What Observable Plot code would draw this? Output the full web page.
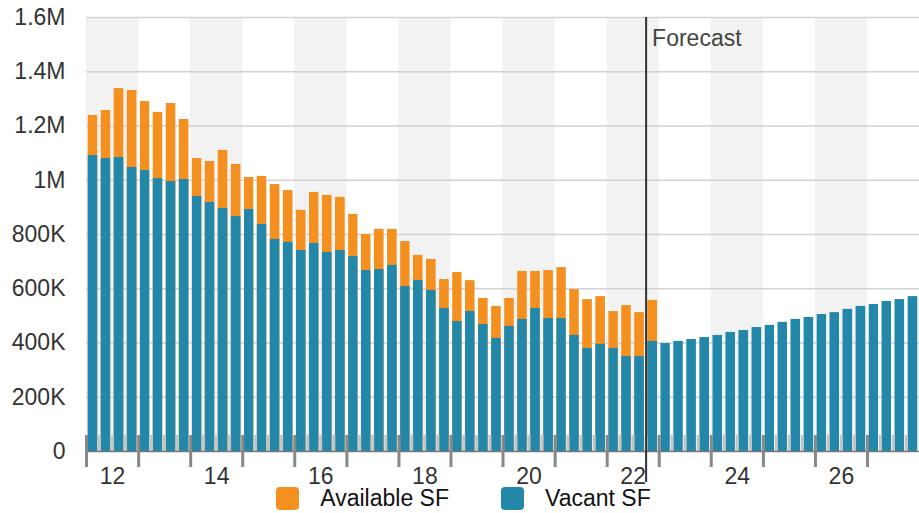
<!DOCTYPE html>
<html><head><meta charset="utf-8">
<script src="https://cdn.jsdelivr.net/npm/d3@7"></script>
<script src="https://cdn.jsdelivr.net/npm/@observablehq/plot@0.6"></script>
<style>
body{margin:0;background:#fff;font-family:"Liberation Sans",Arial,Helvetica,sans-serif;}
#chart svg{display:block}
#legend{display:flex;justify-content:center;align-items:center;height:25px;margin-top:-5px;font-size:23px;line-height:23px;color:#111;padding-left:8px}
.item{display:flex;align-items:center;margin:0 26px}
.sw{width:23px;height:23px;border-radius:4px;margin-right:21px}
</style></head><body><div id="chart"></div><div id="legend"></div>
<script>
const quarters = [
"2012 Q1","2012 Q2","2012 Q3","2012 Q4","2013 Q1","2013 Q2","2013 Q3","2013 Q4",
"2014 Q1","2014 Q2","2014 Q3","2014 Q4","2015 Q1","2015 Q2","2015 Q3","2015 Q4",
"2016 Q1","2016 Q2","2016 Q3","2016 Q4","2017 Q1","2017 Q2","2017 Q3","2017 Q4",
"2018 Q1","2018 Q2","2018 Q3","2018 Q4","2019 Q1","2019 Q2","2019 Q3","2019 Q4",
"2020 Q1","2020 Q2","2020 Q3","2020 Q4","2021 Q1","2021 Q2","2021 Q3","2021 Q4",
"2022 Q1","2022 Q2","2022 Q3","2022 Q4","2023 Q1","2023 Q2","2023 Q3","2023 Q4",
"2024 Q1","2024 Q2","2024 Q3","2024 Q4","2025 Q1","2025 Q2","2025 Q3","2025 Q4",
"2026 Q1","2026 Q2","2026 Q3","2026 Q4","2027 Q1","2027 Q2","2027 Q3","2027 Q4"];
// Vacant SF (thousands)
const vacantK = [
1091,1080,1084,1047,1036,1006,995,1003,
940,918,896,866,892,837,782,771,
741,767,734,741,719,667,671,686,
608,630,594,527,479,516,468,417,
461,487,527,490,490,428,380,395,
380,350,350,406,398,406,413,420,
428,439,446,457,465,476,487,494,
505,512,524,535,542,553,560,571];
// Available SF (thousands), historic quarters only
const availableK = [
1239,1257,1338,1331,1290,1250,1283,1224,
1080,1069,1110,1058,1010,1014,984,962,
889,955,944,937,874,800,819,819,
774,723,708,634,660,630,564,535,
564,664,664,667,678,597,560,571,
516,538,512,557];
const yTicks = [0,200000,400000,600000,800000,1000000,1200000,1400000,1600000];
const yearLabels = [2012,2014,2016,2018,2020,2022,2024,2026];
const yearStarts = [2012,2013,2014,2015,2016,2017,2018,2019,2020,2021,2022,2023,2024,2025,2026,2027];
const forecastStart = new Date(Date.UTC(2022,9,1));
const forecastLabel = "Forecast";
const seriesNames = ["Available SF","Vacant SF"];
const colors = ["#F39020","#2287A8"];

function qStart(label){const [y,q]=label.split(" Q");return new Date(Date.UTC(+y,(+q-1)*3,1));}
function qEnd(label){const [y,q]=label.split(" Q");return new Date(Date.UTC(+y,(+q)*3,1));}
const rows = quarters.map((q,i)=>({q,start:qStart(q),end:qEnd(q),vacant:vacantK[i]*1000,
  available: i<availableK.length ? availableK[i]*1000 : null}));
const bands = yearLabels.map(y=>({x1:new Date(Date.UTC(y,0,1)),x2:new Date(Date.UTC(y+1,0,1))}));
const minorTicks = rows.map(d=>d.start).filter(d=>d.getUTCMonth()!==0);
const majorTicks = yearStarts.map(y=>new Date(Date.UTC(y,0,1)));
const labelDates = yearLabels.map(y=>new Date(Date.UTC(y,6,2)));

const fmtY = v => v===0 ? "0" : v>=1e6 ? (v/1e6)+"M" : (v/1e3)+"K";

const chart = Plot.plot({
  width:919, height:491,
  marginTop:17, marginBottom:40, marginLeft:86, marginRight:0,
  style:{fontFamily:'"Liberation Sans",Arial,Helvetica,sans-serif',fontSize:"23px",color:"#333",background:"#fff"},
  x:{type:"utc",domain:[new Date(Date.UTC(2012,0,1)),new Date(Date.UTC(2028,0,1))]},
  y:{domain:[0,1600000]},
  marks:[
    Plot.rect(bands,{x1:"x1",x2:"x2",fill:"#f2f2f2"}),
    Plot.ruleY(yTicks.filter(v=>v>0),{stroke:"#d2d2d2",strokeWidth:1.5}),
    Plot.rectY(rows.filter(d=>d.available!=null),{x1:"start",x2:"end",y:"available",fill:colors[0],insetLeft:1.75,insetRight:1.75}),
    Plot.rectY(rows,{x1:"start",x2:"end",y:"vacant",fill:colors[1],insetLeft:1.75,insetRight:1.75}),
    Plot.tickX(minorTicks,{x:d=>d,stroke:"#c4c4c4",strokeWidth:3,insetTop:418}),
    Plot.ruleY([0],{stroke:"#777",strokeWidth:1.5}),
    Plot.tickX(majorTicks,{x:d=>d,stroke:"#888",strokeWidth:3,insetTop:418,insetBottom:-16}),
    Plot.ruleX([forecastStart],{stroke:"#333",strokeWidth:2,insetBottom:-31}),
    Plot.text([forecastLabel],{x:forecastStart,frameAnchor:"top",text:d=>d,dx:6,dy:21,textAnchor:"start",lineAnchor:"middle",fontSize:23,fill:"#444"}),
    Plot.axisY({ticks:yTicks,tickSize:0,tickPadding:21,tickFormat:fmtY,fontSize:23,fill:"#333"}),
    Plot.axisX({ticks:labelDates,tickSize:0,tickPadding:16,tickFormat:d=>String(d.getUTCFullYear()%100),fontSize:23,fill:"#333"})
  ]
});
document.getElementById("chart").appendChild(chart);
const lg = document.getElementById("legend");
seriesNames.forEach((n,i)=>{
  const it=document.createElement("div");it.className="item";
  const sw=document.createElement("div");sw.className="sw";sw.style.background=colors[i];
  const t=document.createElement("span");t.textContent=n;
  it.appendChild(sw);it.appendChild(t);lg.appendChild(it);
});
</script></body></html>
